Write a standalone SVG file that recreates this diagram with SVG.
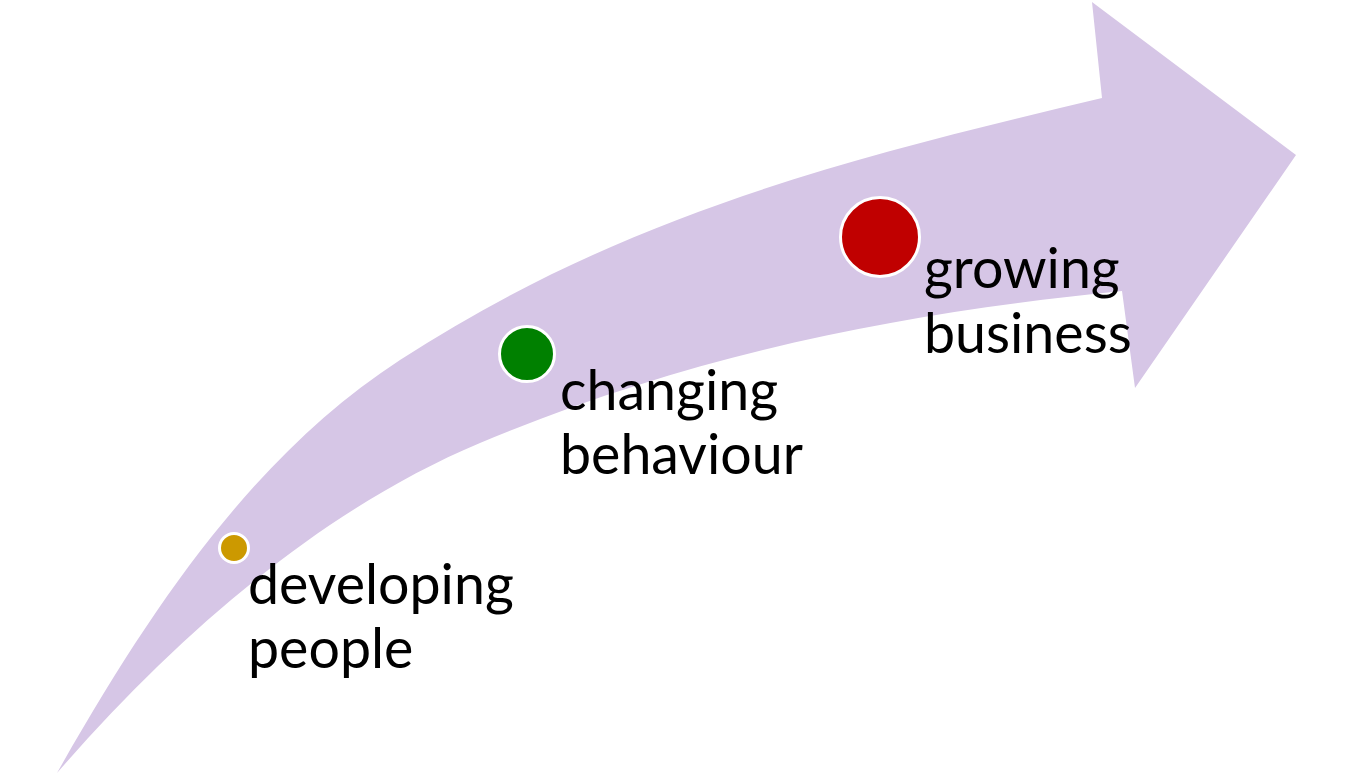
<svg xmlns="http://www.w3.org/2000/svg" width="1352" height="777" viewBox="0 0 1352 777">
<style>
.arrow{fill:#D6C6E6;stroke:none}
.dot{stroke:#FFFFFF;stroke-width:3}
.lbl{font-family:Lato,"Liberation Sans",sans-serif;font-size:55.5px;fill:#000000}
</style>
<rect width="1352" height="777" fill="#FFFFFF"/>
<g id="connectors">
<path id="arrow" class="arrow" d="M57,773 C157,596 260,451 400,360 C630,210.5 862,155.6 1102,98 L1092,2 L1296,155 L1135,388 L1122,291 C912,312 700,350.6 480,443 C330,506 187,623.5 57,773 Z"/>
</g>
<g id="node-developing">
<circle class="dot" cx="234" cy="548" r="14.5" fill="#CC9900"/>
<text class="lbl" x="248" y="604">developing</text>
<text class="lbl" x="248" y="668">people</text>
</g>
<g id="node-changing">
<circle class="dot" cx="527" cy="354" r="27.5" fill="#008000"/>
<text class="lbl" x="560" y="410">changing</text>
<text class="lbl" x="560" y="474">behaviour</text>
</g>
<g id="node-growing">
<circle class="dot" cx="880" cy="237" r="39.5" fill="#C00000"/>
<text class="lbl" x="924" y="288">growing</text>
<text class="lbl" x="924" y="353">business</text>
</g>
</svg>
